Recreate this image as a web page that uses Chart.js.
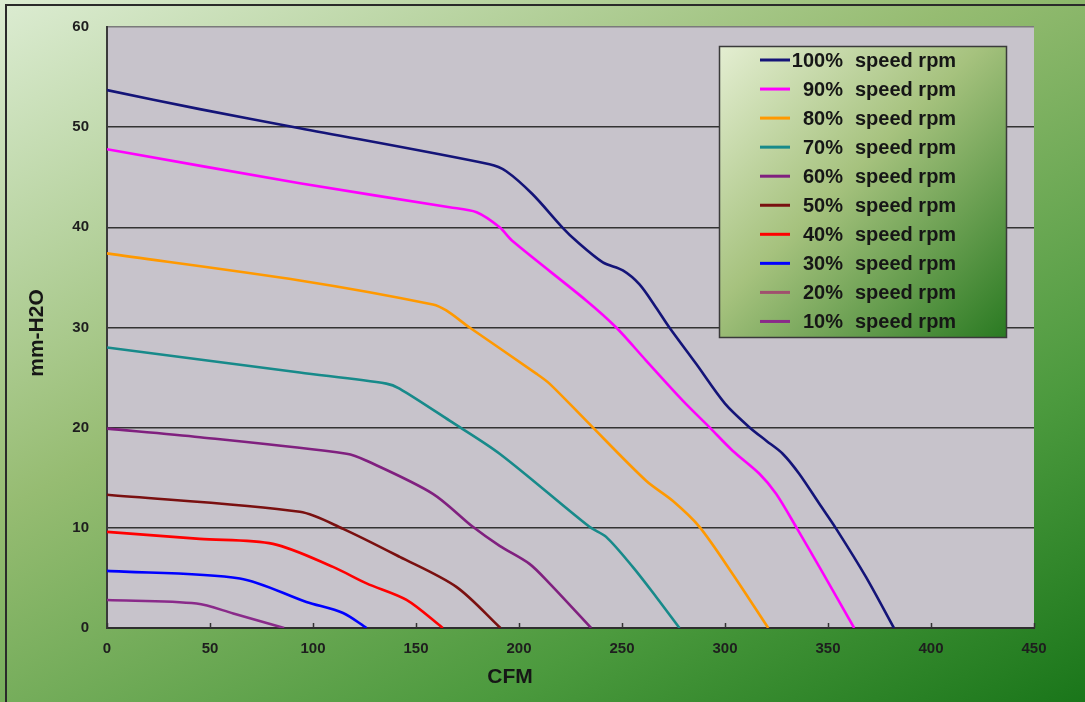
<!DOCTYPE html>
<html>
<head>
<meta charset="utf-8">
<script src="https://cdn.jsdelivr.net/npm/chart.js@4/dist/chart.umd.min.js"></script>
<style>
  html, body { margin: 0; padding: 0; background: #fff; }
  #wrap { width: 1085px; height: 702px; position: relative; }
</style>
</head>
<body>
<div id="wrap"><canvas id="fan_chart" width="1085" height="702"></canvas></div>
<script>
// fan curves: CFM (x) vs static pressure mm-H2O (y)
var seriesLabels = ['100% speed rpm', '90% speed rpm', '80% speed rpm', '70% speed rpm', '60% speed rpm',
                    '50% speed rpm', '40% speed rpm', '30% speed rpm', '20% speed rpm', '10% speed rpm'];
var seriesColors = ['#141478', '#ff00ff', '#ff9900', '#178a8a', '#80207f',
                    '#7a1010', '#ff0000', '#0000ff', '#a0506e', '#8a2a8a'];

var cfm100 = [0, 45, 93.6, 185.7, 193.8, 206.6, 221, 228, 240.7, 250.4, 258.5, 266.5, 273, 285.9, 300, 311.8, 320, 328, 336, 345.8, 354, 368.4, 382];
var mm100  = [53.7, 51.8, 49.9, 46.3, 45.6, 43.3, 40.0, 38.6, 36.5, 35.7, 34.3, 32.0, 30.0, 26.4, 22.4, 20.05, 18.7, 17.4, 15.4, 12.4, 9.9, 5.1, 0];

var cfm90 = [0, 93.6, 166.3, 179.4, 190.6, 197, 232.6, 247.2, 261.7, 279.5, 292.4, 303.7, 316.7, 324.8, 334.5, 345.8, 362.7];
var mm90  = [47.8, 44.4, 42.0, 41.5, 40.0, 38.6, 32.7, 30.0, 26.7, 22.7, 20.05, 17.7, 15.4, 13.4, 10.1, 6.1, 0];

var cfm80 = [0, 93.6, 158.2, 164.7, 176, 208.4, 214.8, 232.6, 261.7, 274.6, 287.6, 303.7, 321];
var mm80  = [37.4, 34.7, 32.3, 31.7, 30.0, 25.4, 24.4, 20.7, 14.7, 12.7, 10.1, 5.4, 0];

var cfm70 = [0, 93.6, 135.6, 142, 166.3, 190.6, 234.2, 242.3, 255.2, 266.6, 277.9];
var mm70  = [28.0, 25.5, 24.4, 23.9, 20.7, 17.4, 10.1, 9.1, 6.1, 3.1, 0];

var cfm60 = [0, 45.1, 116.3, 126, 158.2, 177.6, 190.6, 205.1, 214.8, 235];
var mm60  = [19.9, 19.05, 17.4, 16.7, 13.4, 10.1, 8.2, 6.4, 4.45, 0];

var cfm50 = [0, 93.6, 114.6, 142.1, 169.6, 191];
var mm50  = [13.3, 11.6, 9.9, 7.1, 4.1, 0];

var cfm40 = [0, 45, 80.6, 109.7, 126, 145.4, 163];
var mm40  = [9.6, 8.9, 8.4, 6.1, 4.45, 2.8, 0];

var cfm30 = [0, 64.5, 96.8, 114.6, 126];
var mm30  = [5.7, 4.95, 2.6, 1.5, 0];

var cfm20 = [];   // no separate curve visible in the picture
var mm20  = [];

var cfm10 = [0, 43.5, 61.3, 86];
var mm10  = [2.8, 2.45, 1.45, 0];

var xTicks = [0, 50, 100, 150, 200, 250, 300, 350, 400, 450];
var yTicks = [0, 10, 20, 30, 40, 50, 60];
var xTitle = 'CFM';
var yTitle = 'mm-H2O';

var allCfm = [cfm100, cfm90, cfm80, cfm70, cfm60, cfm50, cfm40, cfm30, cfm20, cfm10];
var allMm  = [mm100, mm90, mm80, mm70, mm60, mm50, mm40, mm30, mm20, mm10];

function toPoints(xs, ys) {
    return xs.map(function (x, i) { return { x: x, y: ys[i] }; });
}

var FONT = '"Liberation Sans", Arial, sans-serif';

var frame = {
    id: 'frame',
    beforeDraw(chart) {
        var c = chart.ctx, w = chart.width, h = chart.height, a = chart.chartArea;
        c.save();
        var g = c.createLinearGradient(0, 0, 528, 997);
        g.addColorStop(0, '#dcecd2');
        g.addColorStop(0.4, '#96bc72');
        g.addColorStop(0.75, '#4c9a3e');
        g.addColorStop(1, '#1a761a');
        c.fillStyle = g;
        c.fillRect(0, 0, w, h);
        c.strokeStyle = '#2a2a2a';
        c.lineWidth = 2;
        c.strokeRect(6, 5, w + 20, h + 20);
        c.fillStyle = '#c7c3cb';
        c.fillRect(a.left, a.top, a.right - a.left, a.bottom - a.top);
        c.restore();
    },
    afterDatasetsDraw(chart) {
        var c = chart.ctx, a = chart.chartArea, xs = chart.scales.x;
        c.save();
        // small inside tick marks on the CFM axis
        c.strokeStyle = '#333';
        c.lineWidth = 1.5;
        xTicks.forEach(function (t) {
            var px = Math.round(xs.getPixelForValue(t)) + 0.5;
            c.beginPath();
            c.moveTo(px, a.bottom);
            c.lineTo(px, a.bottom - 5);
            c.stroke();
        });

        // legend box
        var L = 719, T = 46, R = 1006, B = 337;
        var g = c.createLinearGradient(L, T, R, B);
        g.addColorStop(0, '#e4eed2');
        g.addColorStop(0.45, '#a6c27e');
        g.addColorStop(1, '#2a7a22');
        c.fillStyle = g;
        c.fillRect(L, T, R - L, B - T);
        c.strokeStyle = '#3a3a3a';
        c.lineWidth = 1.5;
        c.strokeRect(L + 0.5, T + 0.5, R - L, B - T);

        c.font = 'bold 20px ' + FONT;
        c.textBaseline = 'middle';
        chart.data.datasets.forEach(function (ds, i) {
            var y = 60 + i * 29.05;
            c.strokeStyle = ds.borderColor;
            c.lineWidth = 3;
            c.beginPath();
            c.moveTo(760, y);
            c.lineTo(790, y);
            c.stroke();
            var sp = ds.label.indexOf(' ');
            c.fillStyle = '#161616';
            c.textAlign = 'right';
            c.fillText(ds.label.slice(0, sp), 843, y + 1);
            c.textAlign = 'left';
            c.fillText(ds.label.slice(sp + 1), 855, y + 1);
        });

        // axis titles
        c.fillStyle = '#161616';
        c.font = 'bold 21px ' + FONT;
        c.textAlign = 'center';
        c.fillText(xTitle, 510, 677);
        c.translate(37, 333);
        c.rotate(-Math.PI / 2);
        c.fillText(yTitle, 0, 0);
        c.restore();
    }
};

var ctx = document.getElementById('fan_chart');
new Chart(ctx, {
    type: 'scatter',
    data: {
        datasets: seriesLabels.map(function (lab, i) {
            return {
                label: lab,
                data: toPoints(allCfm[i], allMm[i]),
                showLine: true,
                borderColor: seriesColors[i],
                backgroundColor: seriesColors[i],
                borderWidth: 2.6,
                pointRadius: 0,
                tension: 0.3,
                order: 10 - i
            };
        })
    },
    options: {
        responsive: false,
        animation: false,
        devicePixelRatio: 1,
        layout: { padding: { left: 0, top: 25, right: 51, bottom: 0 } },
        plugins: {
            legend: { display: false },
            tooltip: { enabled: false }
        },
        scales: {
            x: {
                type: 'linear',
                min: 0, max: 450,
                afterFit(s) { s.height = 74; },
                afterBuildTicks(s) { s.ticks = xTicks.map(function (v) { return { value: v }; }); },
                grid: { display: false, drawTicks: false },
                border: { display: true, color: '#2e2e2e', width: 2 },
                ticks: {
                    padding: 12,
                    autoSkip: false,
                    maxRotation: 0,
                    color: '#1e1e1e',
                    font: { family: FONT, size: 15, weight: 'bold' }
                }
            },
            y: {
                type: 'linear',
                min: 0, max: 60,
                afterFit(s) { s.width = 107; },
                afterBuildTicks(s) { s.ticks = yTicks.map(function (v) { return { value: v }; }); },
                grid: {
                    drawTicks: false,
                    lineWidth: 1.6,
                    color: function (c) { return c.tick && c.tick.value === 60 ? '#7a7a7a' : '#333333'; }
                },
                border: { display: true, color: '#3a3a3a', width: 2 },
                ticks: {
                    padding: 18,
                    autoSkip: false,
                    color: '#1e1e1e',
                    font: { family: FONT, size: 15, weight: 'bold' }
                }
            }
        }
    },
    plugins: [frame]
});
</script>
</body>
</html>
